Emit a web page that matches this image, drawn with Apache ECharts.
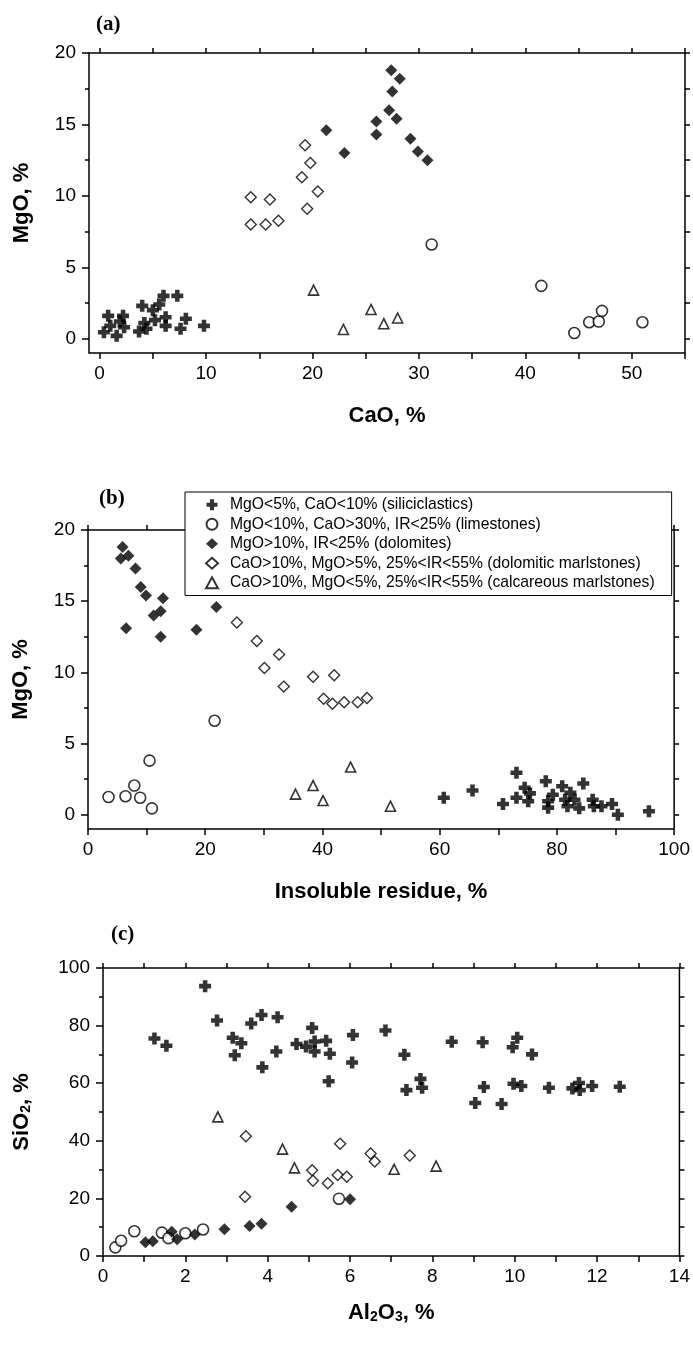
<!DOCTYPE html>
<html>
<head>
<meta charset="utf-8">
<script src="https://cdn.jsdelivr.net/npm/echarts@6/dist/echarts.min.js"></script>
<style>
html,body{margin:0;padding:0;background:#fff;}
#chart{width:693px;height:1345px;}
</style>
</head>
<body>
<div id="chart"></div>
<script>
// group names (legend of panel b)
const groupNames = [
    'MgO<5%, CaO<10% (siliciclastics)',
    'MgO<10%, CaO>30%, IR<25% (limestones)',
    'MgO>10%, IR<25% (dolomites)',
    'CaO>10%, MgO>5%, 25%<IR<55% (dolomitic marlstones)',
    'CaO>10%, MgO<5%, 25%<IR<55% (calcareous marlstones)'
];

// (a) CaO vs MgO
const siliA = [[0.4,0.45],[0.8,1.6],[1.0,0.9],[1.6,0.2],[1.9,1.2],[2.2,1.6],[2.3,0.8],[3.7,0.5],[4.0,2.3],[4.2,1.1],[4.4,0.7],[5.0,2.0],[5.2,1.3],[5.6,2.4],[6.0,3.0],[6.2,1.5],[6.2,0.9],[7.3,3.0],[7.6,0.7],[8.1,1.4],[9.8,0.9]];
const limeA = [[31.2,6.6],[41.5,3.7],[44.6,0.4],[46.0,1.15],[46.9,1.2],[47.2,1.95],[51.0,1.15]];
const dolA = [[21.3,14.6],[23.0,13.0],[26.0,15.2],[26.0,14.3],[27.2,16.0],[27.4,18.8],[27.5,17.3],[27.9,15.4],[28.2,18.2],[29.2,14.0],[29.9,13.1],[30.8,12.5]];
const dmA = [[14.2,9.9],[14.2,8.0],[15.6,8.0],[16.0,9.75],[16.8,8.25],[19.0,11.3],[19.3,13.55],[19.5,9.1],[19.8,12.3],[20.5,10.3]];
const cmA = [[20.1,3.4],[22.9,0.65],[25.5,2.05],[26.7,1.05],[28.0,1.45]];

// (b) insoluble residue vs MgO
const siliB = [[60.7,1.2],[65.6,1.7],[70.8,0.75],[73.1,2.95],[73.1,1.2],[74.5,1.9],[75.4,1.5],[75.1,0.95],[78.1,2.35],[78.5,0.95],[78.5,0.5],[79.3,1.4],[80.9,2.0],[81.4,1.05],[81.8,0.6],[82.3,1.55],[83.0,1.05],[83.8,0.45],[84.5,2.2],[86.1,1.05],[86.3,0.6],[87.6,0.6],[89.4,0.75],[90.4,0.0],[95.7,0.25]];
const limeB = [[3.5,1.25],[6.4,1.3],[7.9,2.05],[8.9,1.2],[10.9,0.45],[10.5,3.8],[21.6,6.6]];
const dolB = [[5.9,18.8],[5.6,18.0],[6.9,18.2],[8.1,17.3],[9.0,16.0],[9.9,15.4],[11.2,14.0],[12.4,14.3],[12.8,15.2],[6.5,13.1],[12.4,12.5],[18.5,13.0],[21.9,14.6]];
const dmB = [[25.4,13.5],[28.8,12.2],[30.1,10.3],[32.6,11.25],[33.4,9.0],[38.4,9.7],[42.0,9.8],[40.2,8.15],[41.7,7.8],[43.7,7.9],[46.0,7.9],[47.6,8.2]];
const cmB = [[35.4,1.45],[38.4,2.05],[40.1,1.0],[44.8,3.35],[51.6,0.6]];

// (c) Al2O3 vs SiO2
const siliC = [[2.48,93.7],[1.25,75.5],[1.54,73.0],[2.77,81.8],[3.15,75.8],[3.2,69.7],[3.36,73.9],[3.6,80.7],[3.85,83.7],[3.87,65.5],[4.24,82.9],[4.21,71.0],[4.7,73.6],[4.93,72.7],[5.08,79.2],[5.14,71.0],[5.14,74.5],[5.42,74.7],[5.51,70.2],[5.48,60.7],[6.07,76.7],[6.05,67.2],[6.86,78.3],[7.32,69.9],[7.37,57.6],[7.71,61.5],[7.75,58.4],[8.47,74.4],[9.22,74.2],[9.04,53.1],[9.25,58.7],[9.68,52.8],[9.95,72.5],[10.06,75.8],[9.97,59.8],[10.16,59.0],[10.42,70.0],[10.83,58.4],[11.4,58.2],[11.56,60.1],[11.58,57.6],[11.88,59.0],[12.55,58.8]];
const limeC = [[0.3,3.0],[0.44,5.3],[0.76,8.6],[1.43,8.1],[1.59,6.2],[2.0,7.9],[2.43,9.2],[5.73,19.9]];
const dolC = [[1.03,4.8],[1.21,5.1],[1.67,8.4],[1.8,5.8],[2.23,7.5],[2.95,9.3],[3.56,10.4],[3.85,11.2],[4.58,17.1],[6.0,19.7]];
const dmC = [[3.47,41.6],[3.45,20.6],[5.08,29.8],[5.1,26.1],[5.46,25.3],[5.7,28.1],[5.76,39.0],[5.92,27.5],[6.5,35.6],[6.6,32.8],[7.45,34.9]];
const cmC = [[2.79,48.3],[4.36,37.1],[4.65,30.6],[7.07,30.1],[8.09,31.2]];

// ticks and tick labels
const aXTicks = [0,5,10,15,20,25,30,35,40,45,50,55];
const aXLabels = [0,10,20,30,40,50];
const bXTicks = [0,10,20,30,40,50,60,70,80,90,100];
const bXLabels = [0,20,40,60,80,100];
const mgoLabels = [0,5,10,15,20];
const mgoMinor = [2.5,7.5,12.5,17.5];
const mgoRight = [0,2.5,5,7.5,10,12.5,15,17.5,20];
const cXTicks = [0,1,2,3,4,5,6,7,8,9,10,11,12,13,14];
const cXLabels = [0,2,4,6,8,10,12,14];
const cYLabels = [0,20,40,60,80,100];
const cYMinor = [10,30,50,70,90];
const cYRight = [0,10,20,30,40,50,60,70,80,90,100];

const font = "'Liberation Sans', Arial, Helvetica, sans-serif";
const crossPath = 'path://M3.1,0H6.9V3.1H10V6.9H6.9V10H3.1V6.9H0V3.1H3.1Z';

const panels = [
    {grid: {left: 89, top: 53, width: 596, height: 300},
     x: [-1, 55], y: [-1, 20], xTicks: aXTicks, xLabels: aXLabels,
     yLabels: mgoLabels, yMinor: mgoMinor, yRight: mgoRight,
     xName: 'CaO, %', yName: 'MgO, %', yGap: 56, xGap: 52,
     data: [siliA, limeA, dolA, dmA, cmA]},
    {grid: {left: 88, top: 530, width: 588, height: 299},
     x: [0, 100], y: [-1, 20], xTicks: bXTicks, xLabels: bXLabels,
     yLabels: mgoLabels, yMinor: mgoMinor, yRight: mgoRight,
     xName: 'Insoluble residue, %', yName: 'MgO, %', yGap: 56, xGap: 52,
     data: [siliB, limeB, dolB, dmB, cmB]},
    {grid: {left: 103, top: 968, width: 578, height: 288},
     x: [0, 14], y: [0, 100], xTicks: cXTicks, xLabels: cXLabels,
     yLabels: cYLabels, yMinor: cYMinor, yRight: cYRight,
     xName: 'Al{sub|2}O{sub|3}, %', yName: 'SiO{sub|2}, %', yGap: 70, xGap: 46,
     data: [siliC, limeC, dolC, dmC, cmC]}
];

const nameRich = {
    sub: {fontSize: 14, fontWeight: 'bold', fontFamily: font, lineHeight: 14, verticalAlign: 'bottom', color: '#000'}
};

const symbols = [
    {symbol: crossPath, symbolSize: 12, itemStyle: {color: '#000'}},
    {symbol: 'circle', symbolSize: 11, itemStyle: {color: '#fff', borderColor: '#000', borderWidth: 1.6}},
    {symbol: 'diamond', symbolSize: 12, itemStyle: {color: '#000'}},
    {symbol: 'diamond', symbolSize: 11, itemStyle: {color: '#fff', borderColor: '#000', borderWidth: 1.4}},
    {symbol: 'triangle', symbolSize: 10, itemStyle: {color: '#fff', borderColor: '#000', borderWidth: 1.6}}
];

let grids = [], xAxes = [], yAxes = [], series = [];
panels.forEach(function (p, i) {
    grids.push(Object.assign({show: true, borderColor: '#000', borderWidth: 1.5, backgroundColor: 'transparent'}, p.grid));
    let tick = function (vals, len) {
        return {show: true, inside: false, length: len, customValues: vals, lineStyle: {color: '#000', width: 1.5}};
    };
    let noLine = {show: false, onZero: false};
    // bottom
    xAxes.push({
        gridIndex: i, type: 'value', position: 'bottom', min: p.x[0], max: p.x[1],
        axisLine: noLine, splitLine: {show: false},
        axisTick: tick(p.xTicks, 6),
        axisLabel: {customValues: p.xLabels, color: '#000', fontSize: 19, fontFamily: font, margin: 11},
        name: p.xName, nameLocation: 'middle', nameGap: p.xGap,
        nameTextStyle: {color: '#000', fontSize: 22, fontWeight: 'bold', fontFamily: font, rich: nameRich}
    });
    // top
    xAxes.push({
        gridIndex: i, type: 'value', position: 'top', min: p.x[0], max: p.x[1],
        axisLine: noLine, splitLine: {show: false},
        axisTick: tick(p.xTicks, 5), axisLabel: {show: false}
    });
    // left, labelled
    yAxes.push({
        gridIndex: i, type: 'value', position: 'left', min: p.y[0], max: p.y[1],
        axisLine: noLine, splitLine: {show: false},
        axisTick: tick(p.yLabels, 7),
        axisLabel: {customValues: p.yLabels, color: '#000', fontSize: 19, fontFamily: font, margin: 13},
        name: p.yName, nameLocation: 'middle', nameGap: p.yGap, nameRotate: 90,
        nameTextStyle: {color: '#000', fontSize: 22, fontWeight: 'bold', fontFamily: font, rich: nameRich}
    });
    // left, minor ticks
    yAxes.push({
        gridIndex: i, type: 'value', position: 'left', min: p.y[0], max: p.y[1],
        axisLine: noLine, splitLine: {show: false},
        axisTick: tick(p.yMinor, 4), axisLabel: {show: false}
    });
    // right
    yAxes.push({
        gridIndex: i, type: 'value', position: 'right', min: p.y[0], max: p.y[1],
        axisLine: noLine, splitLine: {show: false},
        axisTick: tick(p.yRight, 5), axisLabel: {show: false}
    });
    p.data.forEach(function (d, g) {
        series.push(Object.assign({
            type: 'scatter', name: groupNames[g],
            xAxisIndex: i * 2, yAxisIndex: i * 3,
            data: d, silent: true, symbolKeepAspect: true
        }, symbols[g]));
    });
});

const chart = echarts.init(document.getElementById('chart'), null, {renderer: 'canvas'});
chart.setOption({
    backgroundColor: '#fff',
    animation: false,
    title: [
        {text: '(a)', left: 91, top: 9},
        {text: '(b)', left: 94, top: 483},
        {text: '(c)', left: 106, top: 919}
    ].map(function (t) {
        t.textStyle = {fontFamily: "'Liberation Serif', 'Times New Roman', serif", fontWeight: 'bold', fontSize: 21, color: '#000'};
        return t;
    }),
    legend: {
        left: 185, top: 492, orient: 'vertical',
        data: groupNames, selectedMode: false,
        backgroundColor: '#fff', borderColor: '#000', borderWidth: 1,
        padding: [4, 17, 4, 20],
        itemWidth: 12, itemHeight: 11, itemGap: 2,
        textStyle: {color: '#000', fontSize: 15.7, fontFamily: font, lineHeight: 17.5, padding: [0, 0, 0, 7]},
        z: 10
    },
    grid: grids,
    xAxis: xAxes,
    yAxis: yAxes,
    series: series
});
</script>
</body>
</html>
